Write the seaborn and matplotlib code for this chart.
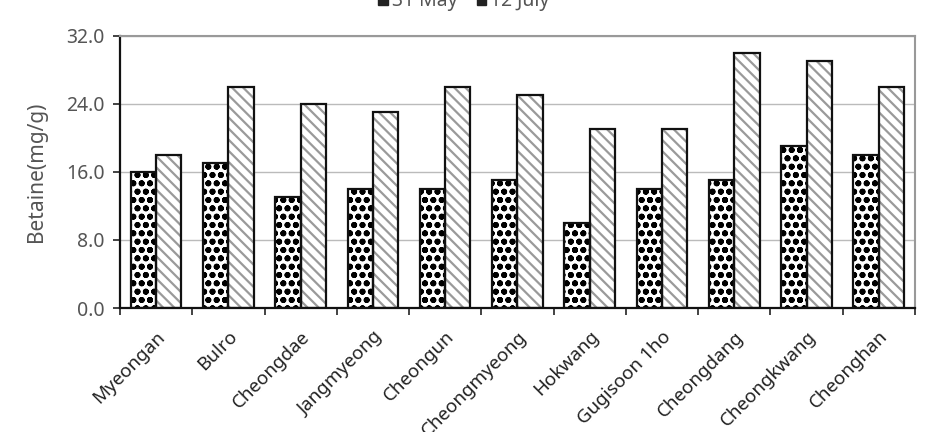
import numpy as np
import pandas as pd
import matplotlib
matplotlib.use("Agg")
import matplotlib.pyplot as plt
import seaborn as sns
from matplotlib.patches import Rectangle, Patch

cultivars = ["Myeongan", "Bulro", "Cheongdae", "Jangmyeong", "Cheongun", "Cheongmyeong",
             "Hokwang", "Gugisoon 1ho", "Cheongdang", "Cheongkwang", "Cheonghan"]
may31 = [16, 17, 13, 14, 14, 15, 10, 14, 15, 19, 18]
july12 = [18, 26, 24, 23, 26, 25, 21, 21, 30, 29, 26]
dates = ["31 May", "12 July"]
yticks = [0, 8, 16, 24, 32]

df = pd.DataFrame({
    "cultivar": cultivars * 2,
    "date": [dates[0]] * len(cultivars) + [dates[1]] * len(cultivars),
    "betaine": may31 + july12,
})

sns.set_style("white")
plt.rcParams["font.family"] = ["Noto Sans", "DejaVu Sans"]
plt.rcParams["hatch.linewidth"] = 1.5

txt = "#555555"
fig = plt.figure(figsize=(9.33, 4.32), dpi=100)
ax = fig.add_axes([0.1286, 0.287, 0.852, 0.63])

sns.barplot(data=df, x="cultivar", y="betaine", hue="date", order=cultivars,
            hue_order=dates, width=0.7, gap=0, ax=ax, legend=False)

# hatch, hatch colour, hatch line width
styles = {dates[0]: ("oo", "black", 1.9), dates[1]: ("\\\\\\", "#9a9a9a", 1.6)}
for cont, d in zip(ax.containers, dates):
    hatch, hc, hlw = styles[d]
    for p in cont.patches:
        p.set_facecolor("white")
        p.set_hatch(hatch)
        p.set_edgecolor(hc)
        p.set_linewidth(0)
        if hasattr(p, "set_hatch_linewidth"):
            p.set_hatch_linewidth(hlw)
        ax.add_patch(Rectangle(p.get_xy(), p.get_width(), p.get_height(),
                               fill=False, edgecolor="#111111", lw=1.6, zorder=3))

ax.set_ylim(0, 32)
ax.set_xlim(-0.5, len(cultivars) - 0.5)
ax.set_yticks(yticks)
ax.set_yticklabels([f"{v:.1f}" for v in yticks], color=txt, fontsize=14)
ax.yaxis.grid(True, color="#bbbbbb", lw=1)
ax.set_axisbelow(True)
ax.tick_params(axis="y", length=5, width=1.2, color="#222222", direction="out", left=True, pad=6)

ax.set_xticks(np.arange(len(cultivars)))
ax.set_xticklabels(cultivars, rotation=45, ha="right", rotation_mode="anchor",
                   color="#222222", fontsize=13.5)
ax.tick_params(axis="x", which="major", length=0, pad=14)
ax.set_xticks(np.arange(len(cultivars) + 1) - 0.5, minor=True)
ax.tick_params(axis="x", which="minor", length=5, width=1.2, color="#222222",
               direction="out", bottom=True)

ax.set_xlabel("")
ax.set_ylabel("Betaine(mg/g)", color=txt, fontsize=15, labelpad=14)

for s in ["left", "bottom"]:
    ax.spines[s].set_color("#111111")
    ax.spines[s].set_linewidth(1.6)
for s in ["top", "right"]:
    ax.spines[s].set_color("#999999")
    ax.spines[s].set_linewidth(1.5)

handles = [Patch(facecolor="#222222", edgecolor="#222222") for d in dates]
fig.legend(handles, dates, loc="center", bbox_to_anchor=(0.497, 0.997), ncol=2,
           frameon=False, fontsize=14, labelcolor=txt, handlelength=0.5,
           handleheight=0.5, handletextpad=0.2, columnspacing=1.0)

fig.savefig("out.png", dpi=100)
